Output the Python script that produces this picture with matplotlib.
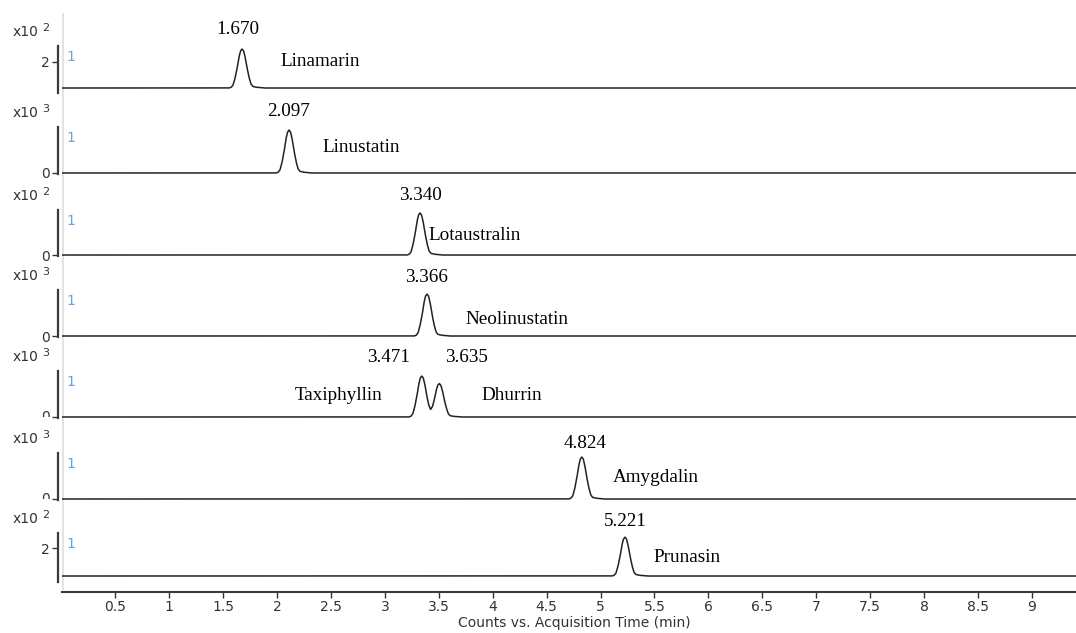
import numpy as np
import matplotlib
matplotlib.use("Agg")
import matplotlib.pyplot as plt
from matplotlib.transforms import Bbox

# ---------------- data ----------------
compounds = ["Linamarin", "Linustatin", "Lotaustralin", "Neolinustatin",
             "Taxiphyllin", "Dhurrin", "Amygdalin", "Prunasin"]
# peaks per panel: retention time (min) and apex height (axis units)
panel_rts = [[1.675], [2.111], [3.326], [3.391], [3.342, 3.505], [4.826], [5.227]]
panel_heights = [[1.50], [0.86], [0.86], [0.84], [0.82, 0.66], [0.84], [1.39]]
panel_baseline = [1.0, 0.0, 0.0, 0.0, 0.0, 0.0, 1.0]
panel_exponent = ["2", "3", "2", "3", "3", "3", "2"]
panel_yticks = [[2], [0], [0], [0], [0], [0], [2]]
panel_ylim = [(0.808, 2.615), (-0.02, 0.92), (-0.02, 0.92), (-0.02, 0.92),
              (-0.02, 0.92), (-0.02, 0.92), (0.786, 2.536)]
rt_labels = ["1.670", "2.097", "3.340", "3.366", "3.471", "3.635", "4.824", "5.221"]
# normalized peak profile (offset in min, relative intensity)
profile_dt = [-0.12, -0.10, -0.083, -0.065, -0.046, -0.028, -0.014, 0.0, 0.014,
              0.028, 0.046, 0.065, 0.083, 0.10, 0.13, 0.167, 0.204]
profile_val = [0.0, 0.02, 0.08, 0.25, 0.5, 0.8, 0.95, 1.0, 0.95,
               0.8, 0.52, 0.27, 0.1, 0.04, 0.02, 0.01, 0.0]
x_ticks = [0.5, 1, 1.5, 2, 2.5, 3, 3.5, 4, 4.5, 5, 5.5, 6, 6.5, 7, 7.5, 8, 8.5, 9]
x_ticklabels = ["0.5", "1", "1.5", "2", "2.5", "3", "3.5", "4", "4.5", "5",
                "5.5", "6", "6.5", "7", "7.5", "8", "8.5", "9"]
xlabel = "Counts vs. Acquisition Time (min)"

# ---------------- layout (pixels) ----------------
W, H = 1076, 633
DPI = 100
tops = [46, 127, 210, 290, 371, 453, 533]
bottoms = [93, 174, 256, 337, 418, 500, 582]
AX_L, AX_R = 62, 1076
XLIM = (0.005, 9.41)
rt_label_pos = [(238, 30), (289, 112), (420, 195), (427, 277), (388, 358),
                (466, 358), (585, 443), (625, 522)]
name_pos = [(280, 61), (322, 147), (428, 235), (465, 319), (295, 395),
            (481, 395), (613, 478), (653, 558)]

def fx(px):
    return px / W

def fy(py):
    return 1 - py / H

fig = plt.figure(figsize=(W / DPI, H / DPI), dpi=DPI)
fig.patch.set_facecolor("white")

SERIF = ["Liberation Serif", "DejaVu Serif"]
SANS = ["DejaVu Sans"]
GRAY = "#333333"

# light vertical separator line
fig.add_artist(plt.Line2D([fx(62.5), fx(62.5)], [fy(14), fy(589)],
                          color="#e3e3e3", lw=1.5, zorder=0))

x = np.linspace(XLIM[0], XLIM[1], 6000)
for i in range(7):
    ax = fig.add_axes([fx(AX_L), fy(bottoms[i]), fx(AX_R - AX_L),
                       (bottoms[i] - tops[i]) / H])
    ax.set_facecolor("none")
    y = np.full_like(x, panel_baseline[i])
    for rt, h in zip(panel_rts[i], panel_heights[i]):
        y = y + h * np.interp(x - rt, profile_dt, profile_val, left=0, right=0)
    ax.plot(x, y, color="#222222", lw=1.1, solid_joinstyle="round")
    ax.set_xlim(*XLIM)
    ax.set_ylim(*panel_ylim[i])
    for s in ["top", "right", "bottom"]:
        ax.spines[s].set_visible(False)
    ax.spines["left"].set_position(("outward", 3))
    ax.spines["left"].set_color("#3a3a3a")
    ax.spines["left"].set_linewidth(1.6)
    ax.set_xticks([])
    ax.set_yticks(panel_yticks[i])
    ax.tick_params(axis="y", direction="out", length=4, width=1.0, color=GRAY,
                   labelsize=10, labelcolor=GRAY, pad=1.5)
    if i in (4, 5):
        ax.set_yticklabels([""])
        # partially clipped "0" label as in the reference
        t = fig.text(fx(50), fy(bottoms[i] - 1), "0", ha="right", va="center",
                     fontsize=10, color=GRAY, family=SANS)
        t.set_clip_on(True)
        t.set_clip_box(fig.transFigure.transform_bbox(
            Bbox([[0, fy(bottoms[i] - 1)], [1, 1]])))
    else:
        ax.set_yticklabels([str(v) for v in panel_yticks[i]], family=SANS)
    # x10^n label
    fig.text(fx(13), fy(tops[i] - 14), "x10", ha="left", va="center",
             fontsize=10, color=GRAY, family=SANS)
    fig.text(fx(42), fy(tops[i] - 18), panel_exponent[i], ha="left", va="center",
             fontsize=8, color=GRAY, family=SANS)
    # trace id
    fig.text(fx(66), fy(tops[i] + 11), "1", ha="left", va="center",
             fontsize=10, color="#6c9fd2", family=SANS)

for lbl, (px, py) in zip(rt_labels, rt_label_pos):
    fig.text(fx(px), fy(py), lbl, ha="center", va="center", fontsize=13.8,
             color="black", family=SERIF)
for name, (px, py) in zip(compounds, name_pos):
    fig.text(fx(px), fy(py), name, ha="left", va="center", fontsize=13.8,
             color="black", family=SERIF)

# bottom time axis
axb = fig.add_axes([fx(AX_L), fy(592), fx(AX_R - AX_L), 0.5 / H])
axb.set_facecolor("none")
axb.set_xlim(*XLIM)
axb.set_yticks([])
for s in ["top", "right", "left"]:
    axb.spines[s].set_visible(False)
axb.spines["bottom"].set_color("#3a3a3a")
axb.spines["bottom"].set_linewidth(1.5)
axb.set_xticks(x_ticks)
axb.set_xticklabels(x_ticklabels, family=SANS)
axb.tick_params(axis="x", direction="out", length=4.5, width=1.0, color=GRAY,
                labelsize=10, labelcolor=GRAY, pad=1.5)
fig.text(fx(574), fy(623), xlabel, ha="center", va="center", fontsize=10,
         color=GRAY, family=SANS)

fig.savefig("out.png", dpi=DPI, facecolor="white")
